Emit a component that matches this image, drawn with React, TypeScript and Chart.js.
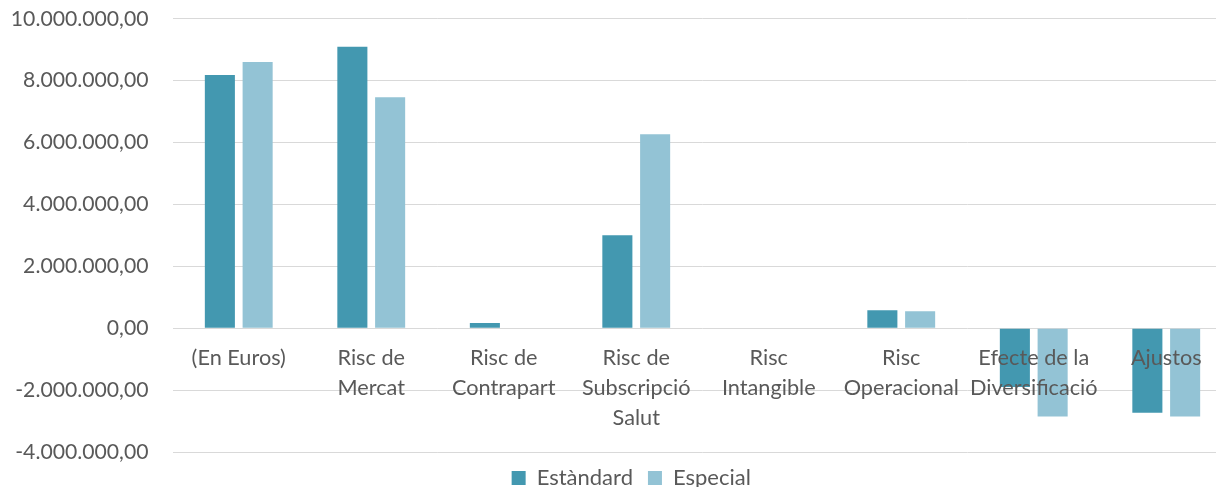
import React, { useEffect, useRef } from "react";
import { Chart, registerables } from "chart.js";

Chart.register(...registerables);

// Categories (multi-line labels under the zero line)
const categories: string[][] = [
  ["(En Euros)"],
  ["Risc de", "Mercat"],
  ["Risc de", "Contrapart"],
  ["Risc de", "Subscripció", "Salut"],
  ["Risc", "Intangible"],
  ["Risc", "Operacional"],
  ["Efecte de la", "Diversificació"],
  ["Ajustos"],
];

// Series values (euros)
const estandard: number[] = [8180000, 9090000, 170000, 3000000, 0, 580000, -1900000, -2730000];
const especial: number[] = [8600000, 7460000, 0, 6270000, 0, 550000, -2850000, -2850000];

// Value axis
const yMin = -4000000;
const yMax = 10000000;
const yStep = 2000000;

const FONT = "Lato";
const TEXT = "#595959";

function formatEuro(v: number): string {
  const neg = v < 0;
  const [intPart, dec] = Math.abs(v).toFixed(2).split(".");
  const grouped = intPart.replace(/\B(?=(\d{3})+(?!\d))/g, ".");
  return (neg ? "-" : "") + grouped + "," + dec;
}

// Nudges the legend block to the right so it sits centred under the plot.
const legendShift = {
  id: "legendShift",
  afterLayout(chart: any) {
    const lg = chart.legend;
    if (!lg) return;
    lg.left += 15;
    lg.right += 15;
  },
};

export default function App() {
  const canvasRef = useRef<HTMLCanvasElement | null>(null);

  useEffect(() => {
    const canvas = canvasRef.current;
    if (!canvas) return;
    const chart = new Chart(canvas, {
      type: "bar",
      data: {
        labels: categories,
        datasets: [
          {
            label: "Estàndard",
            data: estandard,
            backgroundColor: "#4398b0",
            categoryPercentage: 0.57,
            barPercentage: 0.796,
          },
          {
            label: "Especial",
            data: especial,
            backgroundColor: "#93c3d5",
            categoryPercentage: 0.57,
            barPercentage: 0.796,
          },
        ],
      },
      plugins: [legendShift],
      options: {
        responsive: false,
        animation: false,
        layout: { padding: { top: 18.7, right: 7.5, left: 0, bottom: 0 } },
        plugins: {
          tooltip: { enabled: false },
          legend: {
            position: "bottom",
            labels: {
              boxWidth: 14,
              boxHeight: 14,
              padding: 15,
              color: TEXT,
              font: { family: FONT, size: 22 },
            },
          },
        },
        scales: {
          x: {
            type: "category",
            position: { y: 0 } as any,
            offset: true,
            grid: { display: false, drawTicks: false },
            border: { display: false },
            ticks: {
              z: 1,
              color: TEXT,
              font: { family: FONT, size: 21.7, lineHeight: 1.38 },
              padding: 15,
              maxRotation: 0,
              autoSkip: false,
            },
          },
          y: {
            min: yMin,
            max: yMax,
            grid: { color: "#d9d9d9", lineWidth: 1, drawTicks: false },
            border: { display: false },
            ticks: {
              stepSize: yStep,
              color: TEXT,
              font: { family: FONT, size: 21.2 },
              padding: 24,
              callback: (v: any) => formatEuro(Number(v)),
            },
            afterFit: (scale: any) => {
              scale.width = 172.5;
              scale.paddingTop = 0;
              scale.paddingBottom = 0;
            },
          },
        },
      },
    });
    return () => chart.destroy();
  }, []);

  return (
    <div
      style={{
        position: "fixed",
        left: 0,
        top: 0,
        width: 1216,
        height: 487,
        overflow: "hidden",
        background: "#ffffff",
      }}
    >
      <canvas ref={canvasRef} width={1240} height={499} style={{ display: "block" }} />
    </div>
  );
}
